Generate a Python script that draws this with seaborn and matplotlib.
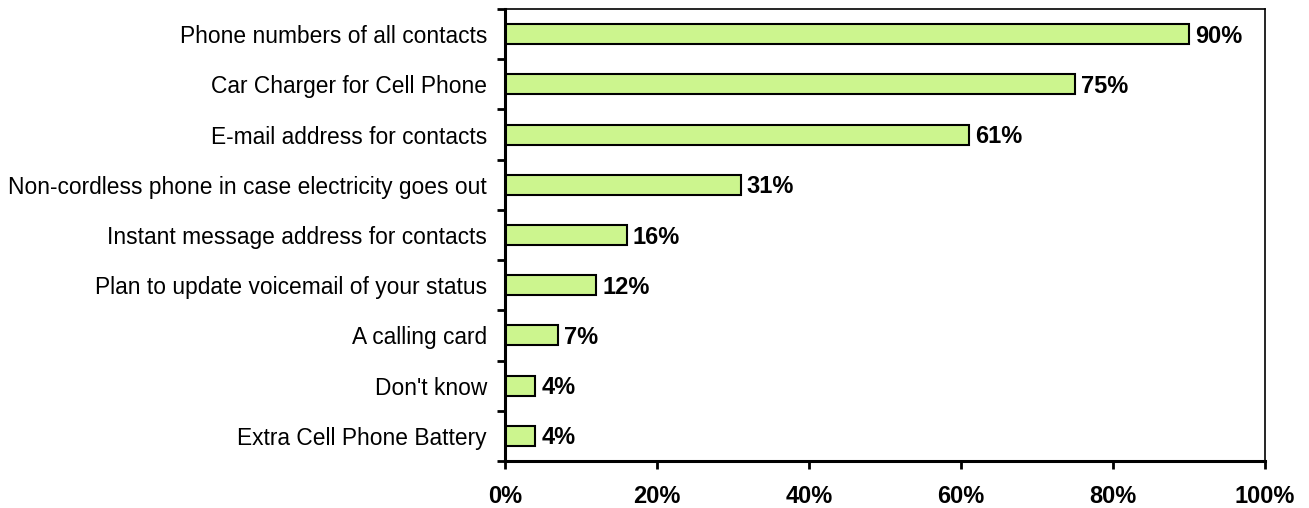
import matplotlib
matplotlib.use("Agg")
import matplotlib.pyplot as plt
import seaborn as sns
import pandas as pd

items = [
    "Phone numbers of all contacts",
    "Car Charger for Cell Phone",
    "E-mail address for contacts",
    "Non-cordless phone in case electricity goes out",
    "Instant message address for contacts",
    "Plan to update voicemail of your status",
    "A calling card",
    "Don't know",
    "Extra Cell Phone Battery",
]
shares = [90, 75, 61, 31, 16, 12, 7, 4, 4]
x_ticks = [0, 20, 40, 60, 80, 100]
x_tick_labels = ["0%", "20%", "40%", "60%", "80%", "100%"]

df = pd.DataFrame({"item": items, "share": shares})

sns.set_style("white")
plt.rcParams["font.family"] = ["Liberation Sans", "DejaVu Sans"]
plt.rcParams["text.color"] = "black"
plt.rcParams["xtick.color"] = "black"
plt.rcParams["ytick.color"] = "black"

fig = plt.figure(figsize=(13.09, 5.08), dpi=100)
ax = fig.add_axes([505 / 1309, 1 - 461 / 508, 760 / 1309, 452 / 508])

sns.barplot(data=df, x="share", y="item", orient="h", ax=ax,
            color="#CCF58E", edgecolor="black", linewidth=1.5,
            width=0.4, saturation=1)

ax.set_xlim(0, 100)
ax.set_ylim(len(items) - 0.5, -0.5)
ax.set_xlabel("")
ax.set_ylabel("")

ax.set_xticks(x_ticks)
ax.set_xticklabels(x_tick_labels, fontsize=17, fontweight="bold")
ax.tick_params(axis="x", length=6, width=2, direction="out", pad=11,
               bottom=True, color="black", labelcolor="black")

# category boundaries carry the y tick marks, labels sit between them
ax.set_yticks([i - 0.5 for i in range(len(items) + 1)], minor=False)
ax.set_yticklabels([""] * (len(items) + 1))
ax.set_yticks(range(len(items)), minor=True)
ax.set_yticklabels(items, minor=True, fontsize=16.4)
ax.tick_params(axis="y", which="major", length=6, width=2, direction="out",
               left=True, color="black")
ax.tick_params(axis="y", which="minor", length=0, pad=13, labelcolor="black")

for side in ["left", "bottom"]:
    ax.spines[side].set_visible(True)
    ax.spines[side].set_linewidth(2.2)
    ax.spines[side].set_color("black")
for side in ["top", "right"]:
    ax.spines[side].set_visible(True)
    ax.spines[side].set_linewidth(1.2)
    ax.spines[side].set_color("black")

for i, v in enumerate(shares):
    ax.text(v + 0.8, i + 0.04, f"{v}%", va="center", ha="left",
            fontsize=17, fontweight="bold", color="black")

fig.savefig("out.png", dpi=100)
